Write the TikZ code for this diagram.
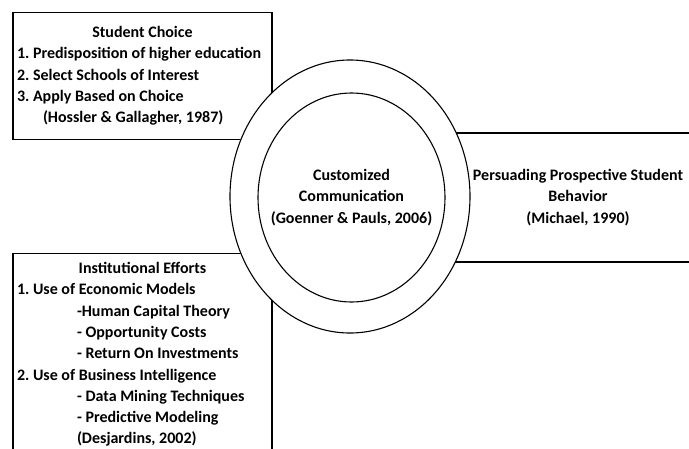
\documentclass[tikz,border=0pt]{standalone}
\usepackage{fontspec}
\setmainfont{Carlito}
\usetikzlibrary{shapes.geometric,positioning}

\tikzset{
	words/.style={font=\bfseries\fontsize{16}{21.3}\selectfont\frenchspacing},
	box/.style={draw,words,line width=1.3pt,inner xsep=0pt},
	ring/.style={draw,ellipse,fill=white,line width=1.1pt,inner sep=0pt},
}

\begin{document}
\begin{tikzpicture}[x=1pt,y=-1pt]
	\path[use as bounding box,clip] (0,0) rectangle (689,448);

	% the three boxes
	\node[box,minimum width=259pt,minimum height=127pt,inner ysep=0pt] (choice) at (142.5,76)
		{\begin{tabular}{@{}l@{}}
		 \multicolumn{1}{@{}c@{}}{Student Choice}\\
		 \makebox[251pt][l]{1. Predisposition of higher education}\\
		 2. Select Schools of Interest\\
		 3. Apply Based on Choice\\
		 \hspace*{26pt}(Hossler \& Gallagher, 1987)
		 \end{tabular}};

	\node[box,anchor=north,minimum width=259pt,inner ysep=5pt] (efforts) at (142.5,253)
		{\begin{tabular}{@{}l@{}}
		 \multicolumn{1}{@{}c@{}}{Institutional Efforts}\\
		 \makebox[251pt][l]{1. Use of Economic Models}\\
		 \hspace*{60pt}-Human Capital Theory\\
		 \hspace*{60pt}- Opportunity Costs\\
		 \hspace*{60pt}- Return On Investments\\
		 2. Use of Business Intelligence\\
		 \hspace*{60pt}- Data Mining Techniques\\
		 \hspace*{60pt}- Predictive Modeling\\
		 \hspace*{60pt}(Desjardins, 2002)\\[6pt]
		 \end{tabular}};

	\node[box,minimum height=129pt,minimum width=276pt,align=center] (persuade) at (578,197.5)
		{Persuading Prospective Student\\Behavior\\(Michael, 1990)};

	% rings on top
	\node[ring,minimum width=240pt,minimum height=273pt] (outer) at (350,196.5) {};
	\node[ring,minimum width=187pt,minimum height=209pt] (inner) at (351.5,197.5) {};
	\node[words,align=center] (comm) at (inner.center)
		{Customized\\Communication\\(Goenner \& Pauls, 2006)};
\end{tikzpicture}
\end{document}
